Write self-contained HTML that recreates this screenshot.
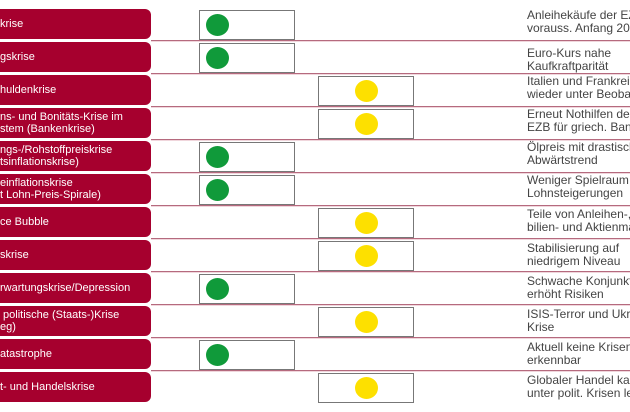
<!DOCTYPE html>
<html><head><meta charset="utf-8"><style>
html,body{margin:0;padding:0;width:630px;height:412px;overflow:hidden;background:#fff;position:relative;font-family:"Liberation Sans",sans-serif}
.r{position:absolute;left:0;width:151px;height:30px;background:#a6002e;border-radius:0 6px 6px 0;color:#fff;font-size:11px;line-height:12px;overflow:hidden}
.r span{position:absolute;left:0;top:50%;transform:translateY(-50%);white-space:nowrap}
.sep{position:absolute;left:151px;width:479px;height:1px;background:#b56a7e;box-shadow:0 1px 0 #f0d6dc}
.b{position:absolute;width:94px;height:28px;border:1px solid #777;background:#fff}
.g,.y{position:absolute;width:23px;height:22px;border-radius:50%}
.g{background:#109a3a}.y{background:#fde000}
.clip{position:absolute;left:527px;top:0;width:103px;height:412px;overflow:hidden}
.t{position:absolute;left:0;font-size:12px;line-height:12.5px;color:#444;white-space:nowrap}
</style></head><body>
<div class="r" style="top:9px"><span>krise</span></div>
<div class="r" style="top:42px"><span>gskrise</span></div>
<div class="r" style="top:75px"><span>huldenkrise</span></div>
<div class="r" style="top:108px"><span>ns- und Bonitäts-Krise im<br>stem (Bankenkrise)</span></div>
<div class="r" style="top:141px"><span>ngs-/Rohstoffpreiskrise<br>tsinflationskrise)</span></div>
<div class="r" style="top:174px"><span>einflationskrise<br>t Lohn-Preis-Spirale)</span></div>
<div class="r" style="top:207px"><span>ce Bubble</span></div>
<div class="r" style="top:240px"><span>skrise</span></div>
<div class="r" style="top:273px"><span>rwartungskrise/Depression</span></div>
<div class="r" style="top:306px"><span>&nbsp;politische (Staats-)Krise<br>eg)</span></div>
<div class="r" style="top:339px"><span>atastrophe</span></div>
<div class="r" style="top:372px"><span>t- und Handelskrise</span></div>

<div class="sep" style="top:40px"></div><div class="sep" style="top:73px"></div>
<div class="sep" style="top:106px"></div><div class="sep" style="top:139px"></div>
<div class="sep" style="top:172px"></div><div class="sep" style="top:205px"></div>
<div class="sep" style="top:238px"></div><div class="sep" style="top:271px"></div>
<div class="sep" style="top:304px"></div><div class="sep" style="top:337px"></div>
<div class="sep" style="top:370px"></div>

<div class="b" style="left:199px;top:10px"></div><div class="g" style="left:206px;top:14px"></div>
<div class="b" style="left:199px;top:43px"></div><div class="g" style="left:206px;top:47px"></div>
<div class="b" style="left:318px;top:76px"></div><div class="y" style="left:355px;top:80px"></div>
<div class="b" style="left:318px;top:109px"></div><div class="y" style="left:355px;top:113px"></div>
<div class="b" style="left:199px;top:142px"></div><div class="g" style="left:206px;top:146px"></div>
<div class="b" style="left:199px;top:175px"></div><div class="g" style="left:206px;top:179px"></div>
<div class="b" style="left:318px;top:208px"></div><div class="y" style="left:355px;top:212px"></div>
<div class="b" style="left:318px;top:241px"></div><div class="y" style="left:355px;top:245px"></div>
<div class="b" style="left:199px;top:274px"></div><div class="g" style="left:206px;top:278px"></div>
<div class="b" style="left:318px;top:307px"></div><div class="y" style="left:355px;top:311px"></div>
<div class="b" style="left:199px;top:340px"></div><div class="g" style="left:206px;top:344px"></div>
<div class="b" style="left:318px;top:373px"></div><div class="y" style="left:355px;top:377px"></div>

<div class="clip">
<div class="t" style="top:9px">Anleihekäufe der EZB<br>vorauss. Anfang 2015</div>
<div class="t" style="top:47px">Euro-Kurs nahe<br>Kaufkraftparität</div>
<div class="t" style="top:75px">Italien und Frankreich<br>wieder unter Beobachtung</div>
<div class="t" style="top:108px">Erneut Nothilfen der<br>EZB für griech. Banken</div>
<div class="t" style="top:141px">Ölpreis mit drastischem<br>Abwärtstrend</div>
<div class="t" style="top:174px">Weniger Spielraum für<br>Lohnsteigerungen</div>
<div class="t" style="top:208px">Teile von Anleihen-, Immo-<br>bilien- und Aktienmärkten</div>
<div class="t" style="top:242px">Stabilisierung auf<br>niedrigem Niveau</div>
<div class="t" style="top:275px">Schwache Konjunktur<br>erhöht Risiken</div>
<div class="t" style="top:308px">ISIS-Terror und Ukraine-<br>Krise</div>
<div class="t" style="top:341px">Aktuell keine Krisen<br>erkennbar</div>
<div class="t" style="top:374px">Globaler Handel kaum<br>unter polit. Krisen leidend</div>
</div>
</body></html>
